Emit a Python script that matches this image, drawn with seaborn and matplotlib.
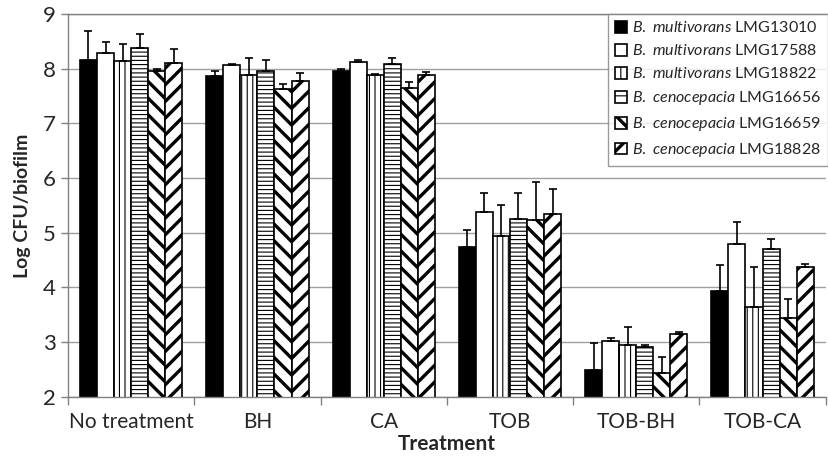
import matplotlib
matplotlib.use("Agg")
import matplotlib.pyplot as plt
import seaborn as sns
import pandas as pd
import numpy as np

treatments = ["No treatment", "BH", "CA", "TOB", "TOB-BH", "TOB-CA"]
strains = [
    r"$\it{B.\ multivorans}$ LMG13010",
    r"$\it{B.\ multivorans}$ LMG17588",
    r"$\it{B.\ multivorans}$ LMG18822",
    r"$\it{B.\ cenocepacia}$ LMG16656",
    r"$\it{B.\ cenocepacia}$ LMG16659",
    r"$\it{B.\ cenocepacia}$ LMG18828",
]
# mean values per treatment (one list per strain)
lmg13010 = [8.15, 7.86, 7.96, 4.74, 2.49, 3.93]
lmg17588 = [8.29, 8.07, 8.12, 5.38, 3.02, 4.80]
lmg18822 = [8.13, 7.88, 7.89, 4.94, 2.94, 3.65]
lmg16656 = [8.37, 7.96, 8.09, 5.25, 2.91, 4.70]
lmg16659 = [7.96, 7.62, 7.64, 5.23, 2.44, 3.44]
lmg18828 = [8.10, 7.77, 7.89, 5.34, 3.14, 4.38]
# upper error values
err13010 = [0.53, 0.10, 0.03, 0.31, 0.50, 0.48]
err17588 = [0.19, 0.02, 0.03, 0.34, 0.05, 0.40]
err18822 = [0.32, 0.32, 0.02, 0.57, 0.34, 0.73]
err16656 = [0.27, 0.19, 0.10, 0.48, 0.04, 0.18]
err16659 = [0.04, 0.10, 0.12, 0.70, 0.29, 0.35]
err18828 = [0.25, 0.15, 0.05, 0.46, 0.04, 0.05]

means = [lmg13010, lmg17588, lmg18822, lmg16656, lmg16659, lmg18828]
errs = [err13010, err17588, err18822, err16656, err16659, err18828]

rows = []
for s, m, e in zip(strains, means, errs):
    for t, v, ev in zip(treatments, m, e):
        rows.append({"Treatment": t, "Strain": s, "val": v, "err": ev})
df = pd.DataFrame(rows)

sns.set_theme(style="white")
plt.rcParams["font.family"] = ["Lato", "DejaVu Sans"]
plt.rcParams["mathtext.fontset"] = "custom"
plt.rcParams["mathtext.it"] = "Lato:italic"
plt.rcParams["mathtext.rm"] = "Lato"
plt.rcParams["hatch.linewidth"] = 2.4

fig = plt.figure(figsize=(8.29, 4.63), dpi=100)
ax = fig.add_axes([0.082, 0.143, 0.914, 0.827])

face = ["black", "white", "white", "white", "white", "white"]
hatches = [None, None, "|||", "----", "\\\\", "//"]
hlw = [None, None, 0.8, 0.8, 2.4, 2.4]


def style_patch(p, i, hatch):
    p.set_facecolor(face[i])
    p.set_edgecolor("black")
    if hatch:
        p.set_hatch(hatch)
        if hasattr(p, "set_hatch_linewidth"):
            p.set_hatch_linewidth(hlw[i])


sns.barplot(data=df, x="Treatment", y="val", hue="Strain", order=treatments,
            hue_order=strains, errorbar=None, width=0.81, ax=ax,
            palette=["black"] * 6, edgecolor="black", linewidth=1.2)

bar_containers = list(ax.containers)
for i, cont in enumerate(bar_containers):
    sub = df[df["Strain"] == strains[i]].set_index("Treatment").loc[treatments]
    xs = []
    for p in cont.patches:
        style_patch(p, i, hatches[i])
        xs.append(p.get_x() + p.get_width() / 2)
    ax.errorbar(xs, sub["val"].values,
                yerr=[np.zeros(len(xs)), sub["err"].values],
                fmt="none", ecolor="black", elinewidth=1.2, capsize=2.6,
                capthick=1.2, zorder=5)

ax.set_ylim(2, 9)
ax.set_xlim(-0.5, 5.5)
ax.set_yticks(range(2, 10))
ax.yaxis.grid(True, color="#a0a0a0", linewidth=1)
ax.set_axisbelow(True)
ax.set_xticks(np.arange(-0.5, 6, 1), minor=True)
ax.tick_params(axis="x", which="major", length=0, labelsize=15, pad=11)
ax.tick_params(axis="x", which="minor", length=6, color="#808080", width=1, bottom=True)
ax.tick_params(axis="y", length=5, color="#808080", width=1, labelsize=16, left=True, pad=4)
for sp in ax.spines.values():
    sp.set_color("#808080")
    sp.set_linewidth(1)
ax.spines["right"].set_visible(False)

ax.set_xlabel("Treatment", fontsize=15, fontweight="bold")
ax.xaxis.set_label_coords(0.5, -0.098)
ax.set_ylabel("Log CFU/biofilm", fontsize=14, fontweight="bold", labelpad=8)

handles, labels = ax.get_legend_handles_labels()
leg = ax.legend(handles, labels, loc="upper right", bbox_to_anchor=(1.003, 1.0),
                fontsize=11.5, frameon=True, fancybox=False, edgecolor="#808080",
                handlelength=0.75, handleheight=0.75, handletextpad=0.35,
                labelspacing=0.5, borderpad=0.4, borderaxespad=0)
leg.get_frame().set_linewidth(1)
leg_hatch = [None, None, "||", "--", "\\", "/"]
for i, h in enumerate(leg.legend_handles):
    style_patch(h, i, leg_hatch[i])

fig.savefig("out.png", dpi=100)
